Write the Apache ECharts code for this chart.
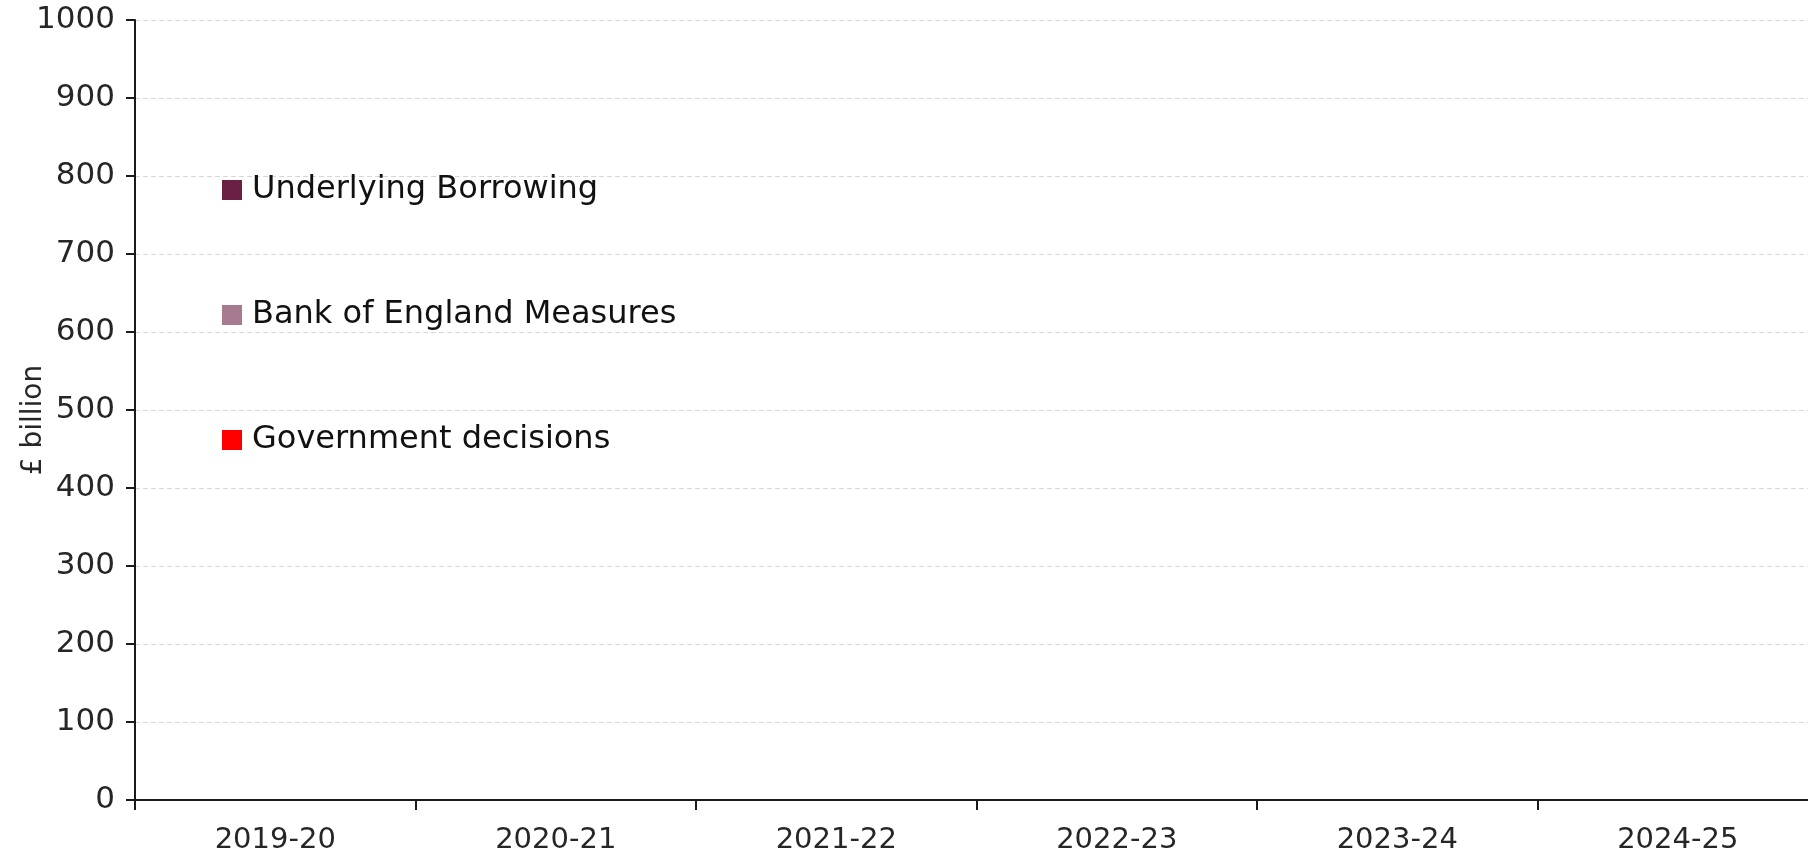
<!DOCTYPE html>
<html>
<head>
<meta charset="utf-8">
<script src="https://cdn.jsdelivr.net/npm/echarts@6/dist/echarts.min.js"></script>
<style>
  html, body { margin: 0; padding: 0; background: #ffffff; }
  #chart { width: 1808px; height: 856px; }
</style>
</head>
<body>
<div id="chart"></div>
<script>
// Fiscal years on the category axis
const years = ['2019-20', '2020-21', '2021-22', '2022-23', '2023-24', '2024-25'];

// Value axis ticks (£ billion)
const yMin = 0;
const yMax = 1000;
const yStep = 100;

// Series names (legend order) and their values; no amounts are plotted yet
const seriesNames = ['Underlying Borrowing', 'Bank of England Measures', 'Government decisions'];
const underlyingBorrowing = [null, null, null, null, null, null];
const bankOfEnglandMeasures = [null, null, null, null, null, null];
const governmentDecisions = [null, null, null, null, null, null];

const seriesColors = ['#6B1F45', '#A67B91', '#FF0000'];
const seriesValues = [underlyingBorrowing, bankOfEnglandMeasures, governmentDecisions];

const FONT = 'DejaVu Sans';
const legendCentres = [190, 315, 440];

const chart = echarts.init(document.getElementById('chart'), null, { renderer: 'canvas' });

chart.setOption({
  animation: false,
  backgroundColor: '#ffffff',
  grid: { left: 135, top: 20, bottom: 56, right: -10, containLabel: false, outerBoundsMode: 'none' },
  legend: seriesNames.map((name, i) => ({
    data: [name],
    orient: 'vertical',
    left: 222,
    top: legendCentres[i] - 16,
    padding: 0,
    icon: 'rect',
    itemWidth: 20,
    itemHeight: 20,
    itemGap: 0,
    selectedMode: false,
    textStyle: { fontFamily: FONT, fontSize: 32, color: '#111111', padding: [0, 0, 0, 5] }
  })),
  xAxis: {
    type: 'category',
    data: years,
    boundaryGap: true,
    axisLine: { show: true, lineStyle: { color: '#1a1a1a', width: 2 } },
    axisTick: { show: true, length: 10, lineStyle: { color: '#1a1a1a', width: 2 } },
    axisLabel: { fontFamily: FONT, fontSize: 29, color: '#262626', margin: 26 },
    splitLine: { show: false }
  },
  yAxis: {
    type: 'value',
    min: yMin,
    max: yMax,
    interval: yStep,
    name: '£ billion',
    nameLocation: 'middle',
    nameRotate: 90,
    nameGap: 87,
    nameMoveOverlap: false,
    nameTextStyle: { fontFamily: FONT, fontSize: 28, color: '#262626', padding: [0, 20, 0, 0] },
    axisLine: { show: true, lineStyle: { color: '#1a1a1a', width: 2 } },
    axisTick: { show: true, length: 9, lineStyle: { color: '#1a1a1a', width: 2 } },
    axisLabel: {
      fontFamily: FONT, fontSize: 31, color: '#262626', margin: 20,
      formatter: (v) => String(v)
    },
    splitLine: { show: true, lineStyle: { color: '#d6d6d6', type: [5, 3], width: 1 } }
  },
  series: seriesNames.map((name, i) => ({
    name: name,
    type: 'bar',
    stack: 'total',
    barWidth: '55%',
    itemStyle: { color: seriesColors[i] },
    data: seriesValues[i]
  }))
});
</script>
</body>
</html>
